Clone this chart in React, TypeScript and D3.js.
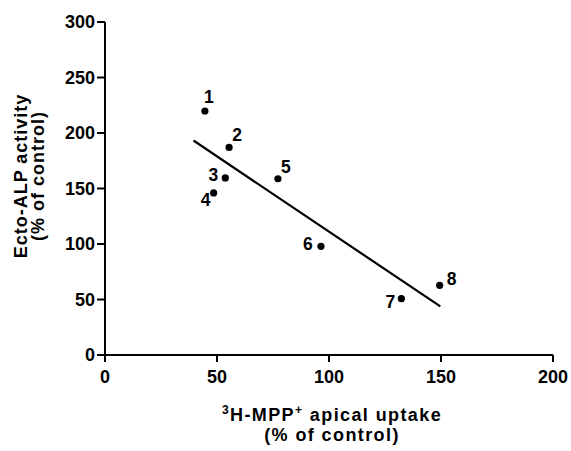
import React from "react";
import * as d3 from "d3";

const pointLabels = ["1", "2", "3", "4", "5", "6", "7", "8"];
const uptake = [44.6, 55.4, 53.7, 48.5, 77.2, 96.4, 132.3, 149.4];
const ectoALP = [219.8, 187, 159.5, 146, 158.8, 97.9, 50.7, 62.8];
const fitRange = [39.5, 149.7];
const xTicks = [0, 50, 100, 150, 200];
const yTicks = [0, 50, 100, 150, 200, 250, 300];

// label placement offsets (px) relative to each point, style only
const labelDx = [4, 8, -12, -8, 8, -13, -11, 12];
const labelDy = [-14, -13, -3, 7, -12, -2, 3, -6];

export default function App() {
  const W = 571, H = 451;
  const x = d3.scaleLinear().domain([0, 200]).range([105, 553]);
  const y = d3.scaleLinear().domain([0, 300]).range([355, 22]);

  const mx = d3.mean(uptake)!;
  const my = d3.mean(ectoALP)!;
  let sxy = 0, sxx = 0;
  uptake.forEach((v, i) => {
    sxy += (v - mx) * (ectoALP[i] - my);
    sxx += (v - mx) * (v - mx);
  });
  const slope = sxy / sxx;
  const intercept = my - slope * mx;
  const fitLine = d3.line<number>().x((d) => x(d)).y((d) => y(intercept + slope * d));

  const font = "'Liberation Sans', Arial, Helvetica, sans-serif";

  return (
    <svg width={W} height={H} style={{ position: "absolute", left: 0, top: 0, background: "#fff" }} fontFamily={font} fontWeight="bold">
      {/* axes */}
      <line x1={x(0)} x2={x(0)} y1={y(300)} y2={y(0)} stroke="#000" strokeWidth={2} />
      <line x1={x(0)} x2={x(200)} y1={y(0)} y2={y(0)} stroke="#000" strokeWidth={2} />
      {yTicks.map((t) => (
        <g key={"y" + t}>
          <line x1={x(0) - 8} x2={x(0)} y1={y(t)} y2={y(t)} stroke="#000" strokeWidth={2} />
          <text x={x(0) - 10} y={y(t)} dy="0.35em" textAnchor="end" fontSize={18}>{t}</text>
        </g>
      ))}
      {xTicks.map((t) => (
        <g key={"x" + t}>
          <line x1={x(t)} x2={x(t)} y1={y(0)} y2={y(0) + 7} stroke="#000" strokeWidth={2} />
          <text x={x(t)} y={y(0) + 28} textAnchor="middle" fontSize={18}>{t}</text>
        </g>
      ))}
      {/* regression line */}
      <path d={fitLine(fitRange) || ""} stroke="#000" strokeWidth={2.2} fill="none" />
      {/* points */}
      {uptake.map((v, i) => (
        <g key={"p" + i}>
          <circle cx={x(v)} cy={y(ectoALP[i])} r={3.6} fill="#000" />
          <text x={x(v) + labelDx[i]} y={y(ectoALP[i]) + labelDy[i]} dy="0.35em" textAnchor="middle" fontSize={17.5}>
            {pointLabels[i]}
          </text>
        </g>
      ))}
      {/* y axis title */}
      <g transform="translate(0,176) rotate(-90)">
        <text x={0} y={27} textAnchor="middle" fontSize={18} letterSpacing={1}>Ecto-ALP activity</text>
        <text x={0} y={44} textAnchor="middle" fontSize={18} letterSpacing={1}>(% of control)</text>
      </g>
      {/* x axis title */}
      <text x={332} y={421} textAnchor="middle" fontSize={18} letterSpacing={1.4}>
        <tspan fontSize={12} dy="-7">3</tspan>
        <tspan dy="7">H-MPP</tspan>
        <tspan fontSize={12} dy="-7">+</tspan>
        <tspan dy="7"> apical uptake</tspan>
      </text>
      <text x={332} y={441} textAnchor="middle" fontSize={18} letterSpacing={1.4}>(% of control)</text>
    </svg>
  );
}
